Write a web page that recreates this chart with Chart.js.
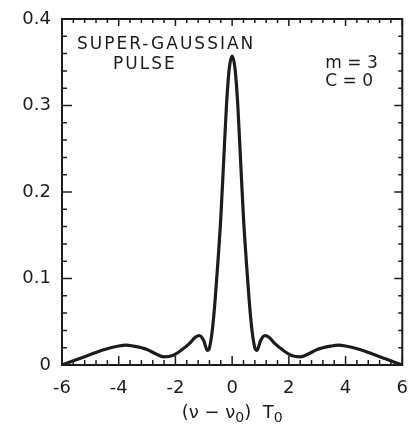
<!DOCTYPE html>
<html>
<head>
<meta charset="utf-8">
<script src="https://cdn.jsdelivr.net/npm/chart.js@4"></script>
<style>
  html, body { margin: 0; padding: 0; background: #fff; }
  #wrap { width: 413px; height: 426px; }
</style>
</head>
<body>
<div id="wrap"><canvas id="spectrum-chart"></canvas></div>
<script>
// spectrum of a super-Gaussian pulse, m = 3, C = 0
const freq = [-6, -5.5, -5, -4.5, -4, -3.75, -3.5, -3, -2.7, -2.4, -2.1, -1.8, -1.5, -1.3, -1.15, -1.0, -0.88, -0.8, -0.7, -0.6, -0.5, -0.4, -0.3, -0.2, -0.1,
              0, 0.1, 0.2, 0.3, 0.4, 0.5, 0.6, 0.7, 0.8, 0.88, 1.0, 1.15, 1.3, 1.5, 1.8, 2.1, 2.4, 2.7, 3, 3.5, 3.75, 4, 4.5, 5, 5.5, 6];
const intensity = [0.000, 0.006, 0.012, 0.018, 0.022, 0.023, 0.022, 0.018, 0.013, 0.0095, 0.011, 0.017, 0.025, 0.032, 0.034, 0.028, 0.017, 0.020, 0.040, 0.075, 0.12, 0.17, 0.235, 0.30, 0.343,
                   0.357, 0.343, 0.30, 0.235, 0.17, 0.12, 0.075, 0.040, 0.020, 0.017, 0.028, 0.034, 0.032, 0.025, 0.017, 0.011, 0.0095, 0.013, 0.018, 0.022, 0.023, 0.022, 0.018, 0.012, 0.006, 0.000];

const xTickLabels = ['-6', '-4', '-2', '0', '2', '4', '6'];
const yTickLabels = ['0', '0.1', '0.2', '0.3', '0.4'];

const ink = '#1c1c1c';
const fontFamily = '"DejaVu Sans", "Liberation Sans", sans-serif';

// frame with inward major/minor ticks on all four sides, plus the labels
const framePlugin = {
    id: 'frame',
    afterDraw(chart) {
        const { ctx, chartArea: a, scales: { x, y } } = chart;
        ctx.save();
        ctx.strokeStyle = ink;
        ctx.lineWidth = 2;
        ctx.strokeRect(a.left, a.top, a.right - a.left, a.bottom - a.top);

        ctx.lineWidth = 1.5;
        ctx.beginPath();
        for (let i = 0; i <= 30; i++) {
            const px = x.getPixelForValue(-6 + i * 0.4);
            const major = i % 5 === 0;
            ctx.moveTo(px, a.bottom);
            ctx.lineTo(px, a.bottom - (major ? 9 : 5));
            ctx.moveTo(px, a.top);
            ctx.lineTo(px, a.top + (major ? 7 : 4));
        }
        for (let i = 0; i <= 20; i++) {
            const py = y.getPixelForValue(i * 0.02);
            const major = i % 5 === 0;
            ctx.moveTo(a.left, py);
            ctx.lineTo(a.left + (major ? 10 : 5), py);
            ctx.moveTo(a.right, py);
            ctx.lineTo(a.right - (major ? 8 : 4), py);
        }
        ctx.stroke();

        ctx.fillStyle = ink;
        ctx.textBaseline = 'middle';
        ctx.textAlign = 'left';
        ctx.font = '17px ' + fontFamily;
        ctx.letterSpacing = '2px';
        ctx.fillText('SUPER-GAUSSIAN', a.left + 15, a.top + 26);
        ctx.fillText('PULSE', a.left + 51, a.top + 46);
        ctx.letterSpacing = '0px';
        ctx.fillText('m = 3', a.right - 77, a.top + 45);
        ctx.fillText('C = 0', a.right - 77, a.top + 63);

        // axis title with subscripts: (ν − ν0) T0
        const parts = [['(ν − ν', 18, 0], ['0', 14, 4], [')  T', 18, 0], ['0', 14, 4]];
        ctx.textBaseline = 'alphabetic';
        let total = 0;
        parts.forEach(([t, s]) => { ctx.font = s + 'px ' + fontFamily; total += ctx.measureText(t).width; });
        let cx = (a.left + a.right) / 2 - total / 2;
        const base = 418;
        parts.forEach(([t, s, dy]) => {
            ctx.font = s + 'px ' + fontFamily;
            ctx.fillText(t, cx, base + dy);
            cx += ctx.measureText(t).width;
        });
        ctx.restore();
    }
};

new Chart(document.getElementById('spectrum-chart').getContext('2d'), {
    type: 'line',
    data: {
        datasets: [{
            data: freq.map((f, i) => ({ x: f, y: intensity[i] })),
            borderColor: ink,
            borderWidth: 3.2,
            pointRadius: 0,
            cubicInterpolationMode: 'monotone',
            fill: false
        }]
    },
    options: {
        responsive: true,
        maintainAspectRatio: false,
        animation: false,
        layout: { padding: { left: 0, right: 8, top: 19, bottom: 0 } },
        plugins: { legend: { display: false }, tooltip: { enabled: false } },
        scales: {
            x: {
                type: 'linear',
                min: -6,
                max: 6,
                grid: { display: false },
                border: { display: false },
                ticks: {
                    stepSize: 2,
                    padding: 5,
                    color: ink,
                    font: { family: fontFamily, size: 18 },
                    maxRotation: 0,
                    callback: (v) => xTickLabels[Math.round((v + 6) / 2)]
                },
                afterFit: (scale) => { scale.height = 61; }
            },
            y: {
                min: 0,
                max: 0.4,
                grid: { display: false },
                border: { display: false },
                ticks: {
                    stepSize: 0.1,
                    padding: 3,
                    color: ink,
                    font: { family: fontFamily, size: 18 },
                    callback: (v) => yTickLabels[Math.round(v * 10)]
                },
                afterFit: (scale) => { scale.width = 62; }
            }
        }
    },
    plugins: [framePlugin]
});
</script>
</body>
</html>
